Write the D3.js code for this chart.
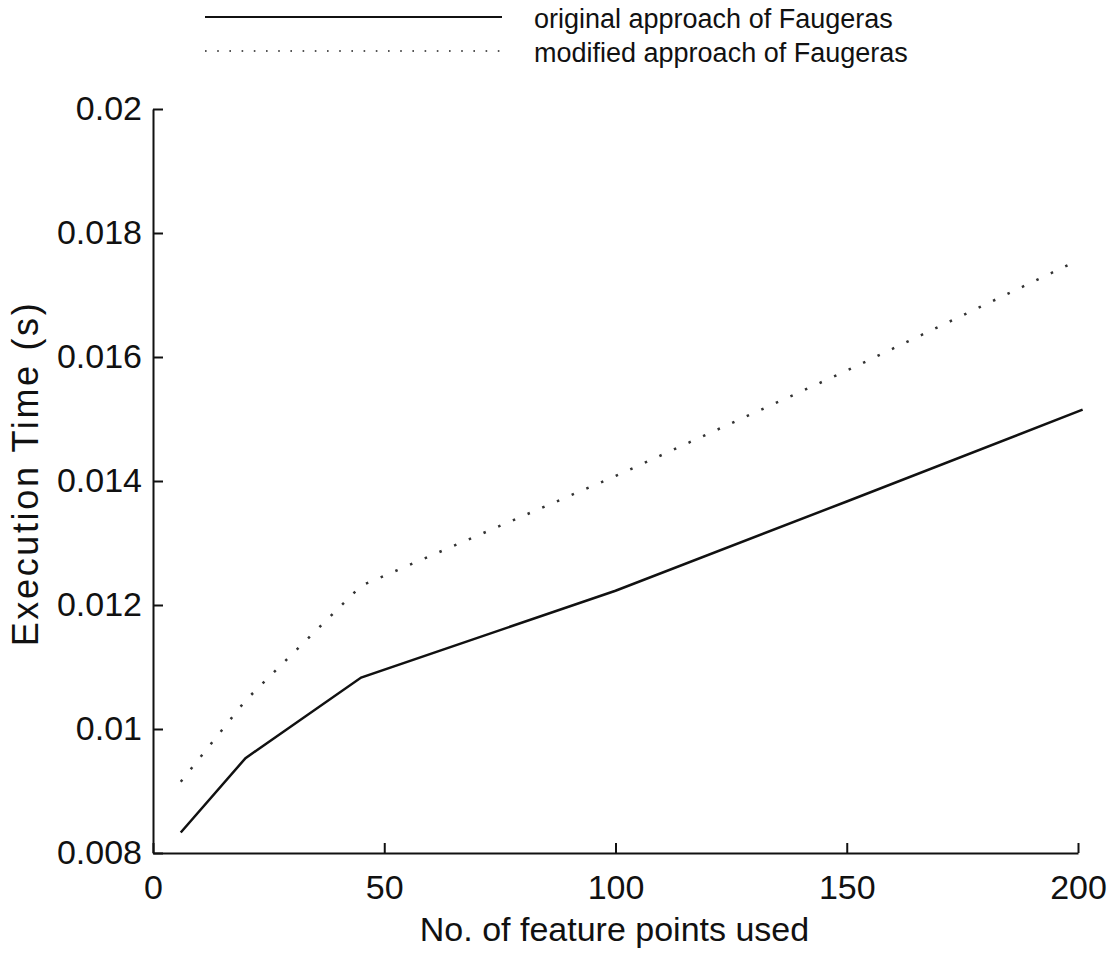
<!DOCTYPE html>
<html>
<head>
<meta charset="utf-8">
<script src="https://cdn.jsdelivr.net/npm/d3@7"></script>
<style>
    body { margin: 0; background: #fff; }
    svg { display: block; font-family: "Liberation Sans", Arial, Helvetica, sans-serif; }
</style>
</head>
<body>
<div id="chart"></div>
<script>
// Data
const xOriginal = [6, 20, 45, 100, 150, 201];
const yOriginal = [0.00833, 0.00953, 0.01083, 0.01223, 0.01367, 0.01515];
const xModified = [6, 20, 45, 100, 150, 200];
const yModified = [0.00915, 0.01046, 0.01231, 0.01408, 0.01578, 0.01756];

const xTicks = [0, 50, 100, 150, 200];
const yTicks = [0.008, 0.01, 0.012, 0.014, 0.016, 0.018, 0.02];
const yTickLabels = ['0.008', '0.01', '0.012', '0.014', '0.016', '0.018', '0.02'];

const seriesNames = ['original approach of Faugeras', 'modified approach of Faugeras'];

// Configuration
const CONFIG = {
    width: 1115,
    height: 955,
    margin: { top: 109, right: 37, bottom: 102, left: 153 },
    tickFont: 34,
    titleFont: 34,
    legendFont: 27
};

function drawChart() {
    const w = CONFIG.width - CONFIG.margin.left - CONFIG.margin.right;
    const h = CONFIG.height - CONFIG.margin.top - CONFIG.margin.bottom;

    const svg = d3.select('#chart')
        .append('svg')
        .attr('width', CONFIG.width)
        .attr('height', CONFIG.height);

    const g = svg.append('g')
        .attr('transform', `translate(${CONFIG.margin.left},${CONFIG.margin.top})`);

    const x = d3.scaleLinear().domain([0, 200]).range([0, w]);
    const y = d3.scaleLinear().domain([0.008, 0.02]).range([h, 0]);

    // axes, ticks point inward like the matlab plot
    const xAxis = d3.axisBottom(x)
        .tickValues(xTicks)
        .tickSize(-10)
        .tickPadding(22)
        .tickSizeOuter(0);

    const yAxis = d3.axisLeft(y)
        .tickValues(yTicks)
        .tickFormat((d, i) => yTickLabels[i])
        .tickSize(-10)
        .tickPadding(11)
        .tickSizeOuter(0);

    const gx = g.append('g')
        .attr('transform', `translate(0,${h})`)
        .call(xAxis);

    const gy = g.append('g').call(yAxis);

    [gx, gy].forEach(ax => {
        ax.selectAll('path, line').attr('stroke', '#111').attr('stroke-width', 2);
        ax.selectAll('text')
            .attr('fill', '#111')
            .style('font-size', CONFIG.tickFont + 'px');
    });
    gx.selectAll('text').attr('dy', '0.71em');

    // axis titles
    svg.append('text')
        .attr('x', CONFIG.margin.left + x(100) - 1)
        .attr('y', 941)
        .attr('text-anchor', 'middle')
        .attr('fill', '#111')
        .style('font-size', CONFIG.titleFont + 'px')
        .text('No. of feature points used');

    svg.append('text')
        .attr('transform', `translate(38,${CONFIG.margin.top + y(0.0141)}) rotate(-90)`)
        .attr('text-anchor', 'middle')
        .attr('fill', '#111')
        .attr('textLength', 343)
        .style('font-size', '36px')
        .text('Execution Time (s)');

    // lines
    const line = d3.line()
        .x(d => x(d[0]))
        .y(d => y(d[1]));

    g.append('path')
        .datum(d3.zip(xOriginal, yOriginal))
        .attr('d', line)
        .attr('fill', 'none')
        .attr('stroke', '#111')
        .attr('stroke-width', 2.5);

    g.append('path')
        .datum(d3.zip(xModified, yModified))
        .attr('d', line)
        .attr('fill', 'none')
        .attr('stroke', '#333')
        .attr('stroke-width', 2.5)
        .attr('stroke-dasharray', '2.5,13.5');

    // legend (top, outside the axes)
    const legend = svg.append('g');
    const rows = [
        { name: seriesNames[0], y: 17, dash: null, color: '#111' },
        { name: seriesNames[1], y: 51, dash: '1.6,10.6', color: '#555' }
    ];
    rows.forEach(r => {
        legend.append('line')
            .attr('x1', 205).attr('x2', 502)
            .attr('y1', r.y).attr('y2', r.y)
            .attr('stroke', r.color)
            .attr('stroke-width', r.dash ? 2 : 2.2)
            .attr('stroke-dasharray', r.dash);
        legend.append('text')
            .attr('x', 534)
            .attr('y', r.y + 11)
            .attr('fill', '#111')
            .style('font-size', CONFIG.legendFont + 'px')
            .text(r.name);
    });
}

document.addEventListener('DOMContentLoaded', drawChart);
</script>
</body>
</html>
